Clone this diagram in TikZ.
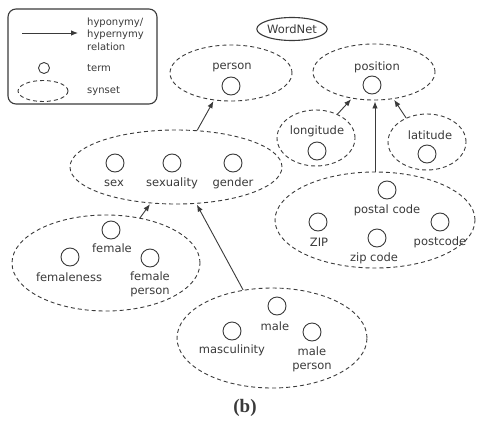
\documentclass[tikz,border=0pt]{standalone}
\usepackage{fontspec}
\setmainfont{DejaVu Sans}
\newfontfamily\capfont{Liberation Serif}
\usetikzlibrary{arrows.meta,shapes.geometric}
\definecolor{ink}{HTML}{3A3A3A}
\tikzset{
  synset/.style={ellipse, draw=ink, line width=0.9pt, dash pattern=on 4pt off 3pt, inner sep=0pt},
  term/.style={circle, draw=ink, line width=0.9pt, minimum size=18pt, inner sep=0pt},
  lbl/.style={text=ink, font=\fontsize{11.5}{14}\selectfont, inner sep=0pt, align=center},
  leg/.style={text=ink, font=\fontsize{10}{12.5}\selectfont, inner sep=0pt, anchor=west, align=left},
  rel/.style={draw=ink, line width=0.9pt, -{Latex[length=7pt,width=5.5pt]}, shorten >=1pt},
}
\begin{document}
\begin{tikzpicture}[x=1pt,y=-1pt]
\useasboundingbox (0,0) rectangle (478,420);

% legend
\node[draw=ink, line width=1.1pt, rounded corners=8pt, minimum width=149pt, minimum height=95pt, inner sep=0pt] (legend) at (82.5,56.5) {};
\coordinate (la) at (22,33);
\coordinate (lb) at (78,33);
\draw[rel, shorten >=0pt] (la) -- (lb);
\node[leg] (ltxt) at (87,34) {hyponymy/\\hypernymy\\relation};
\node[term, minimum size=11pt] (lterm) at (44,68) {};
\node[leg] (ltermtxt) at (87,68) {term};
\node[synset, minimum width=50pt, minimum height=21pt] (lsyn) at (43,91) {};
\node[leg] (lsyntxt) at (87,91) {synset};

% title
\node[ellipse, draw=ink, line width=1.1pt, minimum width=67pt, minimum height=23pt, inner sep=0pt, lbl] (wn) at (292,29) {WordNet};

% synsets
\node[synset, minimum width=122pt, minimum height=56pt] (person) at (231,73) {};
\node[synset, minimum width=122pt, minimum height=56pt] (position) at (374,72) {};
\node[synset, minimum width=78pt, minimum height=56pt] (longitude) at (316,138) {};
\node[synset, minimum width=78pt, minimum height=56pt] (latitude) at (427,142) {};
\node[synset, minimum width=212pt, minimum height=74pt] (sex) at (176,167) {};
\node[synset, minimum width=188pt, minimum height=96pt] (female) at (106,263) {};
\node[synset, minimum width=190pt, minimum height=100pt] (male) at (272,338) {};
\node[synset, minimum width=200pt, minimum height=96pt] (postal) at (375,220) {};

% terms
\node[lbl] (tperson) at (232,67) {person};
\node[term] (cperson) at (231,86) {};
\node[lbl] (tposition) at (377,67) {position};
\node[term] (cposition) at (372,85) {};
\node[lbl] (tlongitude) at (317,131) {longitude};
\node[term] (clongitude) at (317,151) {};
\node[lbl] (tlatitude) at (430,135) {latitude};
\node[term] (clatitude) at (427,154) {};

\node[term] (csex) at (115,163) {};
\node[lbl] (tsex) at (114,183) {sex};
\node[term] (csexuality) at (172,163) {};
\node[lbl] (tsexuality) at (172,183) {sexuality};
\node[term] (cgender) at (233,163) {};
\node[lbl] (tgender) at (233,183) {gender};

\node[term] (cfemale) at (111,230) {};
\node[lbl] (tfemale) at (112,248) {female};
\node[term] (cfemaleness) at (70,257) {};
\node[lbl] (tfemaleness) at (69,277) {femaleness};
\node[term] (cfperson) at (150,258) {};
\node[lbl] (tfperson) at (150,284.5) {female\\person};

\node[term] (cpostal) at (387,190) {};
\node[lbl] (tpostal) at (387,210) {postal code};
\node[term] (czip) at (318,222) {};
\node[lbl] (tzip) at (319,242) {ZIP};
\node[term] (czipcode) at (377,238) {};
\node[lbl] (tzipcode) at (374,258) {zip code};
\node[term] (cpostcode) at (440,222) {};
\node[lbl] (tpostcode) at (440,242) {postcode};

\node[term] (cmale) at (277,306) {};
\node[lbl] (tmale) at (275,326) {male};
\node[term] (cmasc) at (232,331) {};
\node[lbl] (tmasc) at (232,350) {masculinity};
\node[term] (cmperson) at (312,332) {};
\node[lbl] (tmperson) at (312,359) {male\\person};

% relations
\draw[rel] (sex.60) -- (person.238);
\draw[rel] (longitude.48) -- (position.230);
\draw[rel] (postal.north) -- (postal.north |- position.south);
\draw[rel] (latitude.131) -- (position.306);
\draw[rel] (female.53) -- (sex.235);
\draw[rel] (male.121) -- (sex.299);

% caption
\node[text=ink, font=\capfont\bfseries\fontsize{19}{22}\selectfont, inner sep=0pt] (cap) at (245,408) {(b)};
\end{tikzpicture}
\end{document}
